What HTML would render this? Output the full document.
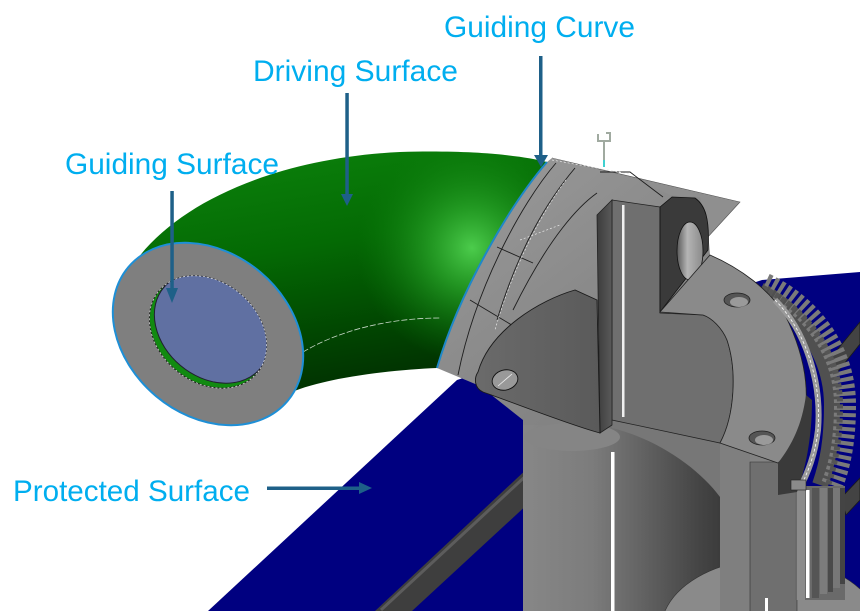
<!DOCTYPE html>
<html><head><meta charset="utf-8"><style>
html,body{margin:0;padding:0;background:#fff;width:860px;height:611px;overflow:hidden;}
svg{display:block;}
text{font-family:"Liberation Sans",Arial,sans-serif;font-size:29.5px;fill:#00aeef;}
</style></head><body>
<svg width="860" height="611" viewBox="0 0 860 611" xmlns="http://www.w3.org/2000/svg" overflow="hidden">
<defs>
<linearGradient id="gBase" x1="300" y1="160" x2="340" y2="400" gradientUnits="userSpaceOnUse">
 <stop offset="0" stop-color="#0a7d0a"/>
 <stop offset="0.35" stop-color="#046a04"/>
 <stop offset="0.7" stop-color="#014801"/>
 <stop offset="1" stop-color="#012d01"/>
</linearGradient>
<radialGradient id="gHi" cx="472" cy="248" r="115" gradientUnits="userSpaceOnUse">
 <stop offset="0" stop-color="#4ccc4c" stop-opacity="1"/>
 <stop offset="0.35" stop-color="#2aa52a" stop-opacity="0.8"/>
 <stop offset="1" stop-color="#0a7a0a" stop-opacity="0"/>
</radialGradient>
<linearGradient id="col" x1="523" y1="0" x2="720" y2="0" gradientUnits="userSpaceOnUse">
 <stop offset="0" stop-color="#878787"/>
 <stop offset="0.35" stop-color="#7c7c7c"/>
 <stop offset="0.6" stop-color="#636363"/>
 <stop offset="0.9" stop-color="#444444"/>
 <stop offset="1" stop-color="#3c3c3c"/>
</linearGradient>
<linearGradient id="tow" x1="597" y1="0" x2="612" y2="0" gradientUnits="userSpaceOnUse">
 <stop offset="0" stop-color="#3c3c3c"/>
 <stop offset="1" stop-color="#5a5a5a"/>
</linearGradient>
<linearGradient id="lug" x1="480" y1="0" x2="600" y2="0" gradientUnits="userSpaceOnUse">
 <stop offset="0" stop-color="#6a6a6a"/>
 <stop offset="1" stop-color="#5a5a5a"/>
</linearGradient>
<linearGradient id="hole" x1="677" y1="0" x2="703" y2="0" gradientUnits="userSpaceOnUse">
 <stop offset="0" stop-color="#5a5a5a"/>
 <stop offset="0.4" stop-color="#b5b5b5"/>
 <stop offset="1" stop-color="#8a8a8a"/>
</linearGradient>
<linearGradient id="head" x1="440" y1="170" x2="600" y2="380" gradientUnits="userSpaceOnUse">
 <stop offset="0" stop-color="#9a9a9a"/>
 <stop offset="1" stop-color="#838383"/>
</linearGradient>
<clipPath id="hc"><ellipse cx="208" cy="332" rx="64" ry="50" transform="rotate(40 208 332)"/></clipPath>
</defs>

<rect width="860" height="611" fill="#fff"/>

<!-- protected surface (blue plane) -->
<polygon points="208,611 457,380 762,280 860,272 860,611" fill="#000080"/>

<!-- rails -->
<polygon points="375,611 530,466 530,502 412,611" fill="#3e3e3e"/>
<line x1="381" y1="610" x2="530" y2="472" stroke="#5c5c5c" stroke-width="3"/>
<polygon points="860,322 860,344 836,374 824,366" fill="#434343" stroke="#1a1a1a" stroke-width="0.8"/>
<polygon points="860,478 860,500 846,515 841,498" fill="#434343" stroke="#1a1a1a" stroke-width="0.8"/>

<!-- green elbow -->
<path d="M135,262 C180,200 280,158 400,152 C470,150 520,155 547,162 C510,205 460,290 437,368 C390,370 320,378 285,395 L200,330 Z" fill="url(#gBase)"/>
<path d="M135,262 C180,200 280,158 400,152 C470,150 520,155 547,162 C510,205 460,290 437,368 C390,370 320,378 285,395 L200,330 Z" fill="url(#gHi)"/>
<path d="M303,352 C340,330 390,318 440,318" fill="none" stroke="#c8d8c8" stroke-width="0.8" stroke-dasharray="6 2"/>

<!-- ring end face -->
<ellipse cx="208" cy="334" rx="104" ry="81" transform="rotate(40 208 334)" fill="#7f7f7f" stroke="#1e8fd6" stroke-width="2"/>
<ellipse cx="208" cy="332" rx="64" ry="50" transform="rotate(40 208 332)" fill="#118a11" stroke="#222" stroke-width="1"/>
<g clip-path="url(#hc)">
 <ellipse cx="212" cy="328" rx="63" ry="49" transform="rotate(40 212 328)" fill="#6070a2" stroke="#202030" stroke-width="1"/>
</g>
<ellipse cx="208" cy="332" rx="64" ry="50" transform="rotate(40 208 332)" fill="none" stroke="#e8e8e8" stroke-width="0.7" stroke-dasharray="2 2"/>

<!-- machinery: top sheet -->
<polygon points="552,158 740,202 707,238 640,200 600,178" fill="#8f8f8f" stroke="#555" stroke-width="0.6"/>

<!-- antenna icon -->
<g stroke="#a0aaa0" fill="none" stroke-width="2">
 <line x1="604" y1="142" x2="604" y2="162"/>
 <path d="M598,134 L598,141 L611,141 M606,133 L610,133 L610,140"/>
</g>
<line x1="604" y1="160" x2="604" y2="167" stroke="#40d0d0" stroke-width="2"/>

<!-- base silhouette -->
<path d="M547,162 L552,158 L600,170 L640,180 L670,195 L700,197 L708,230 L710,255 C740,268 770,290 785,315 C800,345 808,375 806,405 L800,480 L800,611 L523,611 L523,420 L480,386 L437,368 C460,290 510,205 547,162 Z" fill="url(#head)"/>

<!-- head lines -->
<g fill="none" stroke="#1e1e1e" stroke-width="0.9">
 <path d="M556,163 C520,205 475,290 458,375"/>
 <path d="M575,168 C548,200 520,245 497,320"/>
 <path d="M597,193 C580,205 550,235 513,310"/>
 <path d="M497,247 L533,263"/>
 <path d="M470,300 L520,330"/>
 <path d="M600,172 L630,172 L663,197"/>
</g>
<g fill="none" stroke="#e8e8e8" stroke-width="0.7" stroke-dasharray="2 2">
 <path d="M552,160 L630,174"/>
 <path d="M566,180 C540,215 512,270 495,330"/>
 <path d="M520,240 L560,225"/>
</g>
<path d="M547,162 C510,205 460,290 437,368" fill="none" stroke="#1e88c8" stroke-width="2"/>

<!-- column -->
<rect x="523" y="425" width="197" height="186" fill="url(#col)"/>
<path d="M612,420 L720,420 L720,497 C700,470 660,440 612,428 Z" fill="#777"/>
<ellipse cx="572" cy="437" rx="48" ry="14" fill="#858585"/>
<rect x="611" y="452" width="3.5" height="159" fill="#fff"/>
<path d="M665,611 A110 72 0 0 1 860,589 L860,611 Z" fill="#8a8a8a"/>
<path d="M665,611 A110 72 0 0 1 860,589" fill="none" stroke="#333" stroke-width="0.6"/>

<!-- teeth -->
<path d="M760,290 C800,312 832,355 832,405 C832,440 828,462 820,485" fill="none" stroke="#505050" stroke-width="16"/>
<path d="M765,284 C810,305 845,350 845,405 C845,440 840,465 832,485" fill="none" stroke="#7a7a7a" stroke-width="22" stroke-dasharray="4 3"/>
<path d="M763,288 C806,309 840,352 840,405 C840,440 835,465 828,485" fill="none" stroke="#555" stroke-width="6" stroke-dasharray="4 3"/>

<!-- second cylinder & panel -->
<rect x="720" y="443" width="30" height="168" fill="#7f7f7f"/>
<rect x="750" y="462" width="47" height="149" fill="#6f6f6f"/>
<path d="M750,611 L750,462 L797,462 L797,611" fill="none" stroke="#333" stroke-width="0.6"/>
<rect x="765" y="598" width="3" height="13" fill="#fff"/>

<!-- rack -->
<rect x="795" y="486" width="50" height="114" fill="#6a6a6a"/>
<rect x="797" y="488" width="8" height="112" fill="#8c8c8c"/>
<rect x="806" y="490" width="3.5" height="108" fill="#fff"/>
<rect x="812" y="488" width="7" height="110" fill="#555"/>
<rect x="820" y="488" width="7" height="106" fill="#7c7c7c"/>
<rect x="828" y="488" width="5" height="104" fill="#4a4a4a"/>
<rect x="833" y="488" width="7" height="100" fill="#777"/>
<rect x="840" y="488" width="5" height="96" fill="#444"/>

<!-- tower & front face -->
<path d="M612,200 L660,207 L660,313 L703,315 C712,318 722,328 727,340 C737,370 735,415 720,443 L612,420 Z" fill="#6f6f6f" stroke="#222" stroke-width="0.8"/>
<rect x="622" y="205" width="2.5" height="212" fill="#f0f0f0"/>
<polygon points="597,215 612,200 612,425 600,433" fill="url(#tow)" stroke="#222" stroke-width="0.8"/>

<!-- ear -->
<path d="M660,207 L672,197 L695,198 C705,205 710,218 708,250 L660,312 Z" fill="#3a3a3a" stroke="#111" stroke-width="0.8"/>
<ellipse cx="690" cy="251" rx="13" ry="29" fill="url(#hole)" stroke="#111" stroke-width="0.8"/>

<!-- flange top face -->
<path d="M660,312 L710,255 C740,268 770,290 785,315 C800,345 808,375 806,405 C804,430 795,450 778,463 L720,443 C735,415 737,370 727,340 C722,328 712,318 703,315 Z" fill="#8a8a8a" stroke="#222" stroke-width="0.8"/>
<path d="M778,463 C792,445 802,425 806,395 L812,400 C812,440 805,470 797,492 L778,495 Z" fill="#3a3a3a"/>
<path d="M775,300 C805,330 822,380 818,430 C815,455 808,472 800,488" fill="none" stroke="#9a9a9a" stroke-width="6"/>
<path d="M775,300 C805,330 822,380 818,430 C815,455 808,472 800,488" fill="none" stroke="#fff" stroke-width="0.8" stroke-dasharray="3 2"/>
<rect x="791" y="480" width="15" height="10" fill="#8a8a8a" stroke="#222" stroke-width="0.6"/>
<ellipse cx="737" cy="300" rx="13" ry="7" fill="#555" stroke="#222" stroke-width="0.8"/>
<ellipse cx="739" cy="302" rx="9" ry="5" fill="#9a9a9a"/>
<ellipse cx="762" cy="438" rx="13" ry="7" fill="#555" stroke="#222" stroke-width="0.8"/>
<ellipse cx="764" cy="440" rx="9" ry="5" fill="#9a9a9a"/>

<!-- lug -->
<path d="M478,372 C490,330 540,300 575,290 L597,300 L600,433 C570,425 520,405 483,392 C474,388 474,378 478,372 Z" fill="url(#lug)" stroke="#1a1a1a" stroke-width="0.9"/>
<ellipse cx="505" cy="380" rx="13" ry="10" transform="rotate(-15 505 380)" fill="#999" stroke="#111" stroke-width="0.9"/>
<line x1="498" y1="386" x2="512" y2="374" stroke="#eee" stroke-width="0.8"/>

<!-- arrows -->
<g fill="#1e6088" stroke="none">
 <rect x="345.3" y="93" width="3.5" height="104"/>
 <polygon points="341,194 353,194 347,206"/>
 <rect x="170.3" y="191" width="3.5" height="100"/>
 <polygon points="166,288 178,288 172,303"/>
 <rect x="539" y="56" width="3.5" height="102"/>
 <polygon points="534,155 548,155 541,167"/>
 <rect x="267" y="486.5" width="95" height="3.5"/>
 <polygon points="359,482 359,494 372,488"/>
</g>

<!-- labels -->
<text x="444" y="37" textLength="191" lengthAdjust="spacingAndGlyphs">Guiding Curve</text>
<text x="253" y="81" textLength="205" lengthAdjust="spacingAndGlyphs">Driving Surface</text>
<text x="65" y="174" textLength="214" lengthAdjust="spacingAndGlyphs">Guiding Surface</text>
<text x="13" y="501" textLength="237" lengthAdjust="spacingAndGlyphs">Protected Surface</text>
</svg>
</body></html>
